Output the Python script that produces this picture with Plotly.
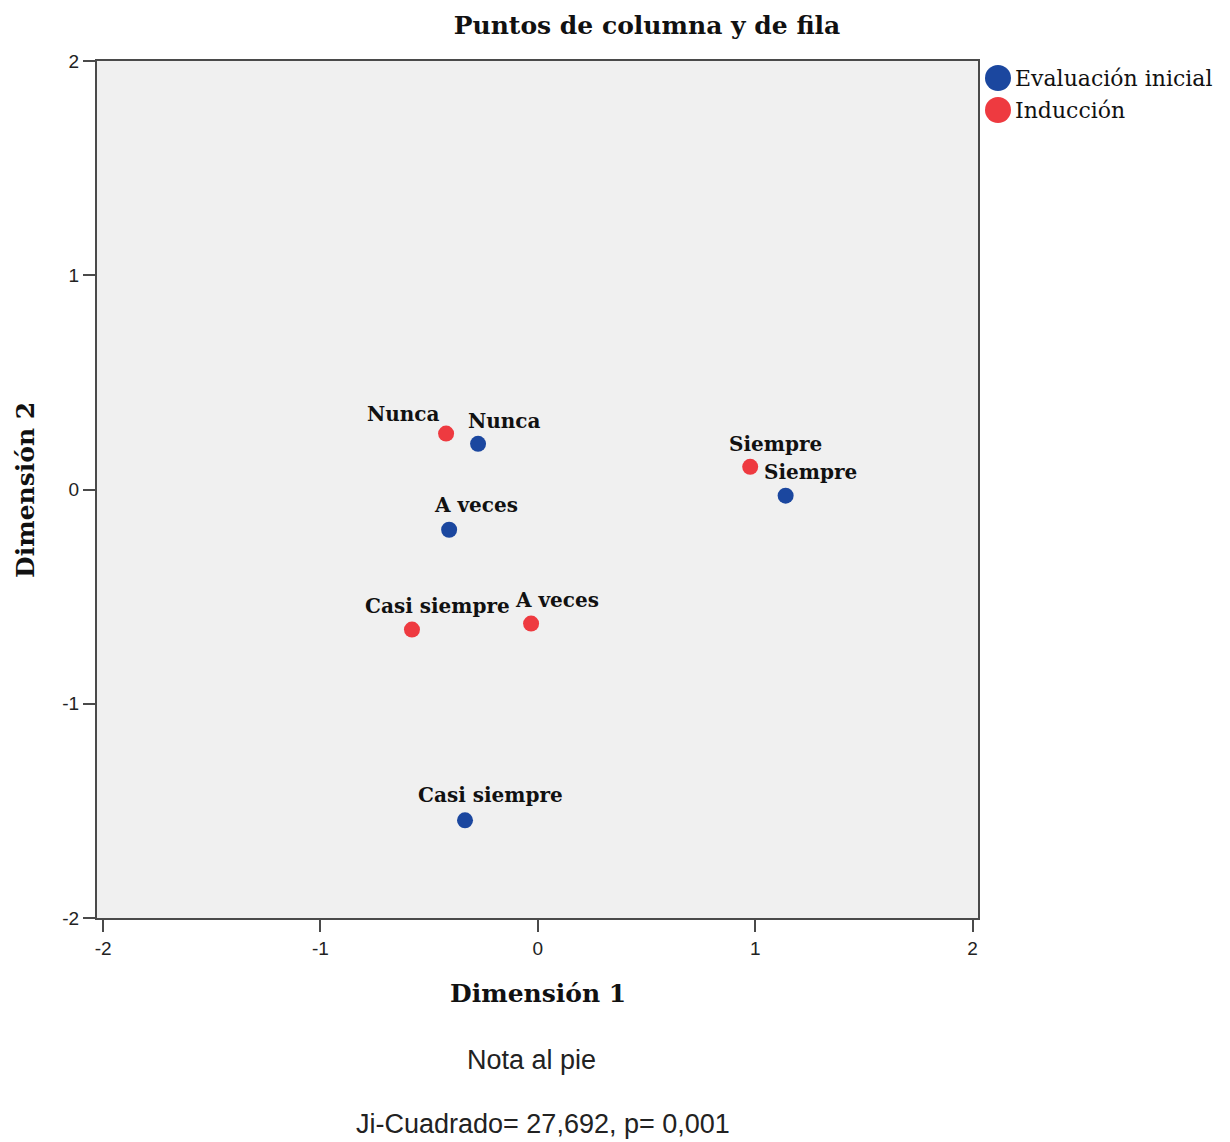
import plotly.graph_objects as go

# ---- data ----
categories_eval = ["Nunca", "A veces", "Siempre", "Casi siempre"]
dim1_eval = [-0.275, -0.408, 1.140, -0.335]
dim2_eval = [0.213, -0.188, -0.029, -1.544]

categories_ind = ["Nunca", "Siempre", "Casi siempre", "A veces"]
dim1_ind = [-0.422, 0.977, -0.579, -0.031]
dim2_ind = [0.261, 0.106, -0.654, -0.626]

series_names = ["Evaluación inicial", "Inducción"]
tick_vals = [-2, -1, 0, 1, 2]
tick_text = ["-2", "-1", "0", "1", "2"]

title_text = "Puntos de columna y de fila"
xtitle = "Dimensión 1"
ytitle = "Dimensión 2"
footnotes = ["Nota al pie", "Ji-Cuadrado= 27,692, p= 0,001"]

# ---- styles / label offsets (pixels) ----
BLUE = "#1b479f"
RED = "#ee3a40"
off_eval = [(-12, 23), (-17, 25), (-24, 24), (-49, 25)]
off_ind = [(-81, 20), (-23, 23), (-49, 24), (-18, 24)]

PAGE_OFF = 0  # body margin removed by post_script
W, H = 1230, 1142
# plot area in page pixels: x 97..978, y 61..918
L = 97 - PAGE_OFF
T = 61 - PAGE_OFF
R = W - (978 - PAGE_OFF)
B = H - (918 - PAGE_OFF)
PW = W - L - R
PH = H - T - B


def px(xpage):
    return (xpage - PAGE_OFF - L) / PW


def py(ypage):
    return 1 - (ypage - PAGE_OFF - T) / PH


fig = go.Figure()
fig.add_trace(go.Scatter(x=dim1_eval, y=dim2_eval, mode="markers", name=series_names[0],
                         marker=dict(color=BLUE, size=16, line=dict(width=0)),
                         showlegend=False))
fig.add_trace(go.Scatter(x=dim1_ind, y=dim2_ind, mode="markers", name=series_names[1],
                         marker=dict(color=RED, size=16, line=dict(width=0)),
                         showlegend=False))

annotations = []
label_font = dict(family="DejaVu Serif", size=20, color="#111111", weight="bold")
for cats, xs, ys, offs in [(categories_eval, dim1_eval, dim2_eval, off_eval),
                           (categories_ind, dim1_ind, dim2_ind, off_ind)]:
    for c, xv, yv, (dx, dy) in zip(cats, xs, ys, offs):
        annotations.append(dict(x=xv, y=yv, xref="x", yref="y", text=c, showarrow=False,
                                xanchor="left", yanchor="middle", xshift=dx, yshift=dy,
                                font=label_font))

title_font = dict(family="DejaVu Serif", size=25, color="#111111", weight="bold")
# axis titles
annotations.append(dict(x=px(538), y=py(993), xref="paper", yref="paper", text=xtitle, showarrow=False,
                        xanchor="center", yanchor="middle", font=title_font))
annotations.append(dict(x=px(26), y=py(490), xref="paper", yref="paper", text=ytitle, showarrow=False,
                        xanchor="center", yanchor="middle", textangle=-90, font=title_font))
# footnotes
foot_font = dict(family="Liberation Sans", size=27, color="#222222")
annotations.append(dict(x=px(531), y=py(1060), xref="paper", yref="paper", text=footnotes[0],
                        showarrow=False, xanchor="center", yanchor="middle", font=foot_font))
annotations.append(dict(x=px(543), y=py(1124), xref="paper", yref="paper", text=footnotes[1],
                        showarrow=False, xanchor="center", yanchor="middle", font=foot_font))

# custom legend
shapes = []
for i, (nm, col) in enumerate(zip(series_names, [BLUE, RED])):
    ypage = 78 + 32 * i
    shapes.append(dict(type="circle", xref="paper", yref="paper", xsizemode="pixel", ysizemode="pixel",
                       xanchor=px(998), yanchor=py(ypage), x0=-13, x1=13, y0=-13, y1=13,
                       fillcolor=col, line=dict(width=0)))
    annotations.append(dict(x=px(1013), y=py(ypage), xref="paper", yref="paper", text=nm,
                            showarrow=False, xanchor="left", yanchor="middle",
                            font=dict(family="DejaVu Serif", size=22, color="#111111")))

axis_common = dict(showgrid=False, zeroline=False, showline=True, mirror=True,
                   linecolor="#4a4a4a", linewidth=2, ticks="outside", ticklen=12, tickwidth=2,
                   tickcolor="#4a4a4a", tickvals=tick_vals, ticktext=tick_text,
                   tickfont=dict(family="Liberation Sans", size=19, color="#222222"))

fig.update_layout(
    width=W, height=H,
    margin=dict(l=L, r=R, t=T, b=B, autoexpand=False),
    paper_bgcolor="white", plot_bgcolor="#f0f0f0",
    title=dict(text=title_text, x=px(647), xref="paper", xanchor="center",
               y=1 - (25 - PAGE_OFF) / H, yanchor="middle", yref="container",
               font=title_font),
    xaxis=dict(range=[-2.028, 2.025], **axis_common),
    yaxis=dict(range=[-2, 2], **axis_common),
    annotations=annotations, shapes=shapes, showlegend=False,
)

fig.write_html("out.html", config={"displayModeBar": False},
               post_script="document.body.style.margin='0';document.body.style.overflow='hidden';")
